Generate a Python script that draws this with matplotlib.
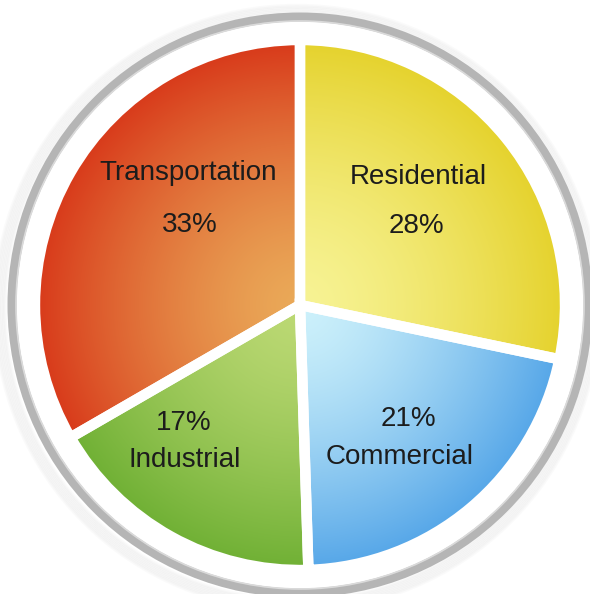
import numpy as np
import matplotlib.pyplot as plt
from matplotlib import font_manager
from matplotlib.colors import to_rgb
from matplotlib.patches import Circle

# energy use by sector (%)
sectors = ['Residential', 'Commercial', 'Industrial', 'Transportation']
shares = [28, 21, 17, 33]

# gradient colours: light near the centre, darker at the rim
inner_cols = ['#f7f394', '#cdf1fb', '#bcd974', '#eaa958']
outer_cols = ['#e5d22c', '#55a6e8', '#6fb034', '#d8391a']

# label spots (pixels from the centre, y up): name line, then percent line
name_pos = [(118, 128), (100, -152), (-115, -155), (-112, 132)]
pct_pos = [(116, 79), (108, -114), (-116, -118), (-110, 80)]

R = 265

# narrow sans if there is one, else plain Liberation Sans
try:
    font_manager.findfont('Liberation Sans Narrow', fallback_to_default=False)
    fam, fs = 'Liberation Sans Narrow', 23
except Exception:
    fam, fs = 'Liberation Sans', 20

fig = plt.figure(figsize=(5.9, 5.94), dpi=100)
ax = fig.add_axes([0, 0, 1, 1])

wedges, _ = ax.pie(shares, radius=R, center=(0, 0), startangle=90,
                   counterclock=False,
                   wedgeprops=dict(facecolor='none', edgecolor='white',
                                   linewidth=7.5, zorder=3))

# radial gradient fill, clipped to each slice
g = np.linspace(-R, R, 500)
xx, yy = np.meshgrid(g, g)
t = np.clip(np.hypot(xx, yy) / R, 0, 1) ** 1.4
for w, ci, co in zip(wedges, inner_cols, outer_cols):
    ci = np.array(to_rgb(ci))
    co = np.array(to_rgb(co))
    img = ci * (1 - t[..., None]) + co * t[..., None]
    im = ax.imshow(img, extent=(-R, R, -R, R), origin='lower',
                   interpolation='bilinear', zorder=1)
    im.set_clip_path(w)

# soft shadow and grey ring
for k in range(8):
    ax.add_patch(Circle((-3, -3), 292 + k * 1.5, fill=False,
                        edgecolor='#888888', alpha=0.035, linewidth=2.5, zorder=0))
ax.add_patch(Circle((0, 0), 288, facecolor='white', edgecolor='#b5b5b5',
                    linewidth=6.5, zorder=0.5))
ax.add_patch(Circle((0, 0), 284, fill=False, edgecolor='#dadada',
                    linewidth=1.2, zorder=0.6))

for name, v, npos, ppos in zip(sectors, shares, name_pos, pct_pos):
    ax.text(npos[0], npos[1], name, ha='center', va='center', fontsize=fs,
            family=fam, color='#1c1c1c', zorder=5)
    ax.text(ppos[0], ppos[1], f'{v}%', ha='center', va='center', fontsize=fs,
            family=fam, color='#1c1c1c', zorder=5)

ax.set_xlim(-300, 290)
ax.set_ylim(-289, 305)
ax.set_aspect('equal')
ax.axis('off')

fig.savefig('out.png', dpi=100, facecolor='white')
